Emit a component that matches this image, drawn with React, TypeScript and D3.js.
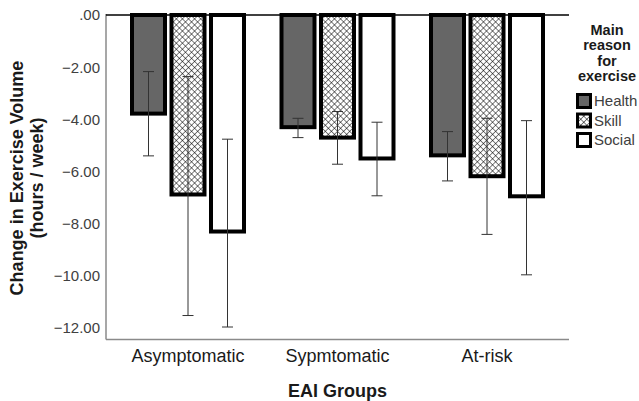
import React from "react";
import * as d3 from "d3";

const groups = ["Asymptomatic", "Sypmtomatic", "At-risk"];
const series = ["Health", "Skill", "Social"];
const means: number[][] = [
  [-3.78, -6.88, -8.3],
  [-4.3, -4.7, -5.5],
  [-5.38, -6.18, -6.95],
];
const errHigh: number[][] = [
  [-2.17, -2.36, -4.76],
  [-3.96, -3.7, -4.11],
  [-4.47, -3.96, -4.05],
];
const errLow: number[][] = [
  [-5.4, -11.52, -11.96],
  [-4.7, -5.72, -6.93],
  [-6.36, -8.41, -9.96],
];
const yTicks = [0, -2, -4, -6, -8, -10, -12];
const legendTitle = ["Main", "reason", "for", "exercise"];

const FONT = "'Liberation Sans', Arial, Helvetica, sans-serif";

export default function App() {
  const W = 639;
  const H = 401;
  const plotLeft = 106;
  const plotRight = 569;
  const y = d3.scaleLinear().domain([-12.42, 0]).range([339, 15]);
  const x0 = d3.scaleBand<string>().domain(groups).range([113.25, 561.75]).paddingInner(0).paddingOuter(0);
  const innerW = 118.5;
  const x1 = d3.scaleBand<string>().domain(series).range([0, innerW]);
  const barW = 33;
  const fills = ["#666666", "url(#crosshatch)", "#ffffff"];
  const fmt = (v: number) => (v === 0 ? ".00" : d3.format(".2f")(v));

  const barCenter = (gi: number, si: number) =>
    (x0(groups[gi]) as number) + (x0.bandwidth() - innerW) / 2 + (x1(series[si]) as number) + x1.bandwidth() / 2;

  return (
    <svg width={W} height={H} style={{ display: "block", position: "absolute", left: 0, top: 0 }} fontFamily={FONT}>
      <defs>
        <pattern id="crosshatch" width={4.3} height={4.3} patternUnits="userSpaceOnUse" patternTransform="rotate(45)">
          <rect width={4.3} height={4.3} fill="#ffffff" />
          <line x1={0} y1={0} x2={4.3} y2={0} stroke="#000" strokeWidth={1} />
          <line x1={0} y1={0} x2={0} y2={4.3} stroke="#000" strokeWidth={1} />
        </pattern>
      </defs>
      <rect width={W} height={H} fill="#fff" />

      {/* y tick labels */}
      {yTicks.map((t) => (
        <text key={t} x={100} y={y(t)} dy="0.36em" textAnchor="end" fontSize={15} fill="#404040">
          {fmt(t)}
        </text>
      ))}

      {/* axes */}
      <line x1={plotLeft} x2={plotLeft} y1={14} y2={339.5} stroke="#8a8a8a" strokeWidth={1.5} />
      <line x1={plotLeft} x2={plotRight} y1={339.5} y2={339.5} stroke="#8a8a8a" strokeWidth={1.5} />

      {/* bars */}
      {groups.map((g, gi) =>
        series.map((s, si) => {
          const cx = barCenter(gi, si);
          const v = means[gi][si];
          return (
            <rect
              key={g + s}
              x={cx - barW / 2}
              y={y(0)}
              width={barW}
              height={y(v) - y(0)}
              fill={fills[si]}
              stroke="#000"
              strokeWidth={4}
            />
          );
        })
      )}

      {/* zero line */}
      <line x1={plotLeft} x2={plotRight} y1={y(0)} y2={y(0)} stroke="#000" strokeWidth={1.5} />

      {/* error bars */}
      {groups.map((g, gi) =>
        series.map((s, si) => {
          const cx = barCenter(gi, si);
          const hi = y(errHigh[gi][si]);
          const lo = y(errLow[gi][si]);
          return (
            <g key={"e" + g + s} stroke="#333" strokeWidth={1}>
              <line x1={cx} x2={cx} y1={hi} y2={lo} />
              <line x1={cx - 5.5} x2={cx + 5.5} y1={hi} y2={hi} />
              <line x1={cx - 5.5} x2={cx + 5.5} y1={lo} y2={lo} />
            </g>
          );
        })
      )}

      {/* category labels */}
      {groups.map((g) => (
        <text key={g} x={(x0(g) as number) + x0.bandwidth() / 2} y={362} textAnchor="middle" fontSize={18} fill="#1a1a1a">
          {g}
        </text>
      ))}

      {/* x title */}
      <text x={337.5} y={397} textAnchor="middle" fontSize={18} fontWeight="bold" fill="#1a1a1a">
        EAI Groups
      </text>

      {/* y title */}
      <g transform="translate(23,178) rotate(-90)">
        <text x={0} y={0} textAnchor="middle" fontSize={18} fontWeight="bold" fill="#1a1a1a">
          Change in Exercise Volume
        </text>
        <text x={0} y={20} textAnchor="middle" fontSize={18} fontWeight="bold" fill="#1a1a1a">
          (hours / week)
        </text>
      </g>

      {/* legend */}
      {legendTitle.map((t, i) => (
        <text key={t} x={607} y={29.5 + i * 15.5} dy="0.36em" textAnchor="middle" fontSize={14.5} fontWeight="bold" fill="#1a1a1a">
          {t}
        </text>
      ))}
      {series.map((s, i) => {
        const cy = 101 + i * 19.5;
        return (
          <g key={"l" + s}>
            <rect x={577.5} y={cy - 6.5} width={13} height={13} fill={fills[i]} stroke="#000" strokeWidth={3} />
            <text x={594} y={cy} dy="0.36em" fontSize={15} fill="#404040">
              {s}
            </text>
          </g>
        );
      })}
    </svg>
  );
}
